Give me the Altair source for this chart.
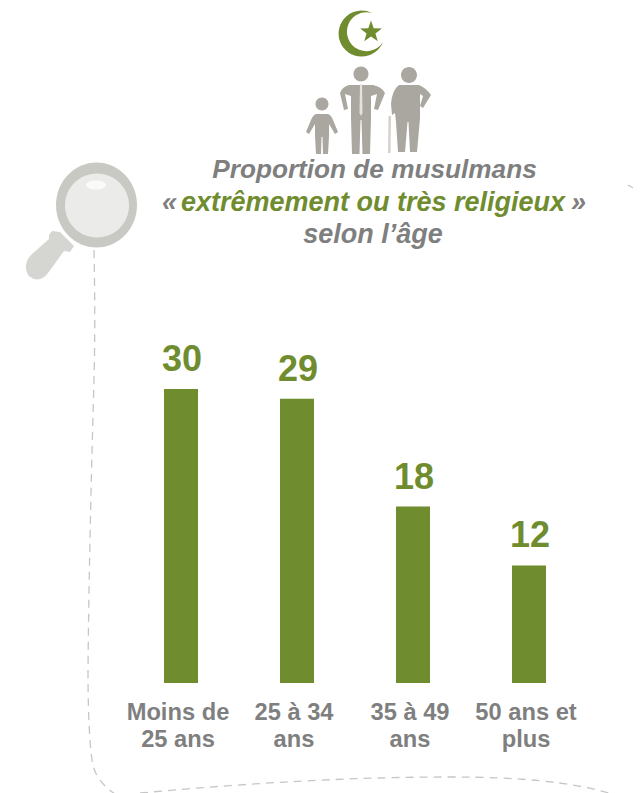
import altair as alt
import pandas as pd

# ---- chart values ----
categories = ["Moins de|25 ans", "25 à 34|ans", "35 à 49|ans", "50 ans et|plus"]
values = [30, 29, 18, 12]

title_1 = "Proportion de musulmans"
title_2a = "«"
title_2b = "extrêmement ou très religieux"
title_2c = "»"
title_3 = "selon l’âge"

GREEN = "#6f8c2f"
GREY = "#7f7f7f"
FIG = "#a9a79f"
FONT = "Arial, Liberation Sans, sans-serif"

df = pd.DataFrame({"cat": categories, "val": values})
one = pd.DataFrame({"a": [0]})

# decoration outlines, drawn in page pixels (size=4 makes one path unit one pixel)
CRESCENT = "M372,13 A23,23 0 1 0 383,42 A19.5,19.5 0 1 1 372,13 Z"
STAR = ("M371,20.5 L373.7,28.3 L381.9,28.4 L375.4,33.4 L377.8,41.3 L371,36.6 "
        "L364.2,41.3 L366.6,33.4 L360.1,28.4 L368.3,28.3 Z")
def circle(cx, cy, rx, ry=None):
    ry = ry or rx
    return f"M{cx-rx},{cy} A{rx},{ry} 0 1 0 {cx+rx},{cy} A{rx},{ry} 0 1 0 {cx-rx},{cy} Z"
CHILD = (circle(322, 104, 6.5) +
         "M316,114 L328,114 Q331,115 333,120 L338,132 L335,134 L329,124 L329,136 L328,154 L323,154 "
         "L322.5,137 L321.5,137 L321,154 L316,154 L315,136 L315,124 L309,134 L306,132 L311,120 Q313,115 316,114 Z")
MAN = (circle(361, 74, 7.5) +
       "M349,85 L373,85 Q382,87 385,93 L378,110 L374,109 L377,94 L371,96 L371,118 L370,154 L362.5,154 "
       "L361.5,120 L360.5,120 L359.5,154 L352,154 L351,118 L351,96 L345,94 L348,109 L344,110 L340,93 Q342,87 349,85 Z")
TIE = "M360,84 L362,84 L362.5,113 L361,116 L359.5,113 Z"
ELDER = (circle(409, 75, 8) +
         "M399,85 L419,85 Q426,88 431,95 L423,108 L420,106 L423,96 L420,94 L420,118 L417,152 L410,152 "
         "L408.5,122 L407.5,122 L405,152 L398,152 L396,122 L395,113 L392,115 L391,104 Q392,90 399,85 Z")
CANE = "M388.5,116 L391,116 L390.5,153 L388,153 Z"
RING = circle(96.5, 205, 40.5, 42.5)
DISC = circle(97, 205.5, 32, 32)
SHINE = circle(96, 185, 10, 4.5)
HANDLE = ("M52,231 L60,232 L74,246 L70,252 L64,251 L48,273 Q42,281 34,279 Q25,276 26,265 "
          "Q27,259 31,255 L49,239 L49,235 Z")
BORDER_LEFT = ("M94,250 C95,300 95,340 94,380 C92,450 89,560 88,670 "
               "C88,720 90,745 92,760 C94,775 102,785 115,794")
BORDER_BOTTOM = "M140,793 C250,783 350,777 450,777 C520,777 570,782 609,793"
BORDER_TOP = "M628,185 L633,188"


def deco(path, fill=None, stroke=None, width=1.3, dash=None):
    kw = dict(shape=path, size=4, opacity=1)
    if fill:
        kw.update(filled=True, fill=fill, strokeWidth=0)
    else:
        kw.update(filled=False, stroke=stroke, strokeWidth=width, strokeDash=dash)
    return alt.Chart(one).mark_point(**kw).encode(x=alt.value(-8), y=alt.value(-8))


def line(text, px, py, color, size=27, align="center"):
    return alt.Chart(pd.DataFrame({"t": [text]})).mark_text(
        font=FONT, fontSize=size, fontWeight="bold", fontStyle="italic",
        color=color, align=align, baseline="alphabetic",
    ).encode(text="t:N", x=alt.value(px - 8), y=alt.value(py - 8))


x = alt.X("cat:N", sort=categories, title=None,
          scale=alt.Scale(domain=categories, range=[115, 579],
                          paddingInner=1 - 34 / 116, paddingOuter=(1 - 34 / 116) / 2),
          axis=alt.Axis(domain=False, ticks=False, labelAngle=0, labelLimit=220,
                        labelFont=FONT, labelFontWeight="bold", labelFontSize=23.7,
                        labelColor=GREY, labelOffset=-3, labelPadding=17, labelLineHeight=27,
                        labelExpr="split(datum.label, '|')", labelOverlap=False))
y = alt.Y("val:Q", title=None, axis=None, scale=alt.Scale(domain=[0, 30], range=[675, 381]))

bars = alt.Chart(df).mark_bar(color=GREEN).encode(x=x, y=y)
nums = alt.Chart(df).mark_text(
    font=FONT, fontSize=36, fontWeight="bold", color=GREEN, baseline="alphabetic", dy=-18, dx=1
).encode(x=x, y=y, text="val:Q")

DASH = [8, 6]
chart = alt.layer(
    deco(BORDER_LEFT, stroke="#c6c6c6", dash=DASH),
    deco(BORDER_BOTTOM, stroke="#c6c6c6", dash=DASH),
    deco(BORDER_TOP, stroke="#c6c6c6", dash=DASH),
    deco(HANDLE, fill="#d5d5d1"),
    deco(RING, fill="#c9c9c4"),
    deco(DISC, fill="#ebebea"),
    deco(SHINE, fill="#fafafa"),
    deco(CRESCENT, fill=GREEN),
    deco(STAR, fill=GREEN),
    deco(CHILD, fill=FIG),
    deco(MAN, fill=FIG),
    deco(TIE, fill="#e4e3de"),
    deco(ELDER, fill=FIG),
    deco(CANE, fill="#d4d2cb"),
    line(title_1, 374.5, 178, GREY, size=26.2),
    line(title_2a, 162, 211, GREY, align="left"),
    line(title_2b, 373, 211, GREEN),
    line(title_2c, 571, 211, GREY, align="left"),
    line(title_3, 373, 243, GREY),
    bars,
    nums,
).properties(
    width=625, height=675,
    padding={"left": 0, "top": 0, "right": 0, "bottom": 110},
    autosize=alt.AutoSizeParams(type="none"),
).configure_view(stroke=None)

chart.save("out.html", embed_options={"renderer": "svg", "actions": False})
